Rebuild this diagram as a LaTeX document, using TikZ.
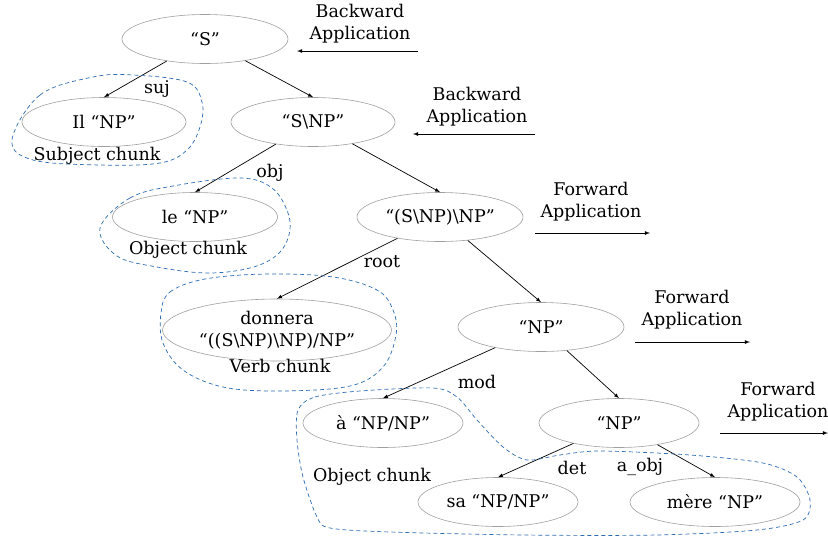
\documentclass[tikz,border=0pt]{standalone}
\usepackage{fontspec}
\setmainfont{DejaVu Serif}
\usepackage{xcolor}
\usetikzlibrary{arrows,backgrounds,calc,shapes.geometric}
\definecolor{chunkblue}{RGB}{46,108,178}
\tikzset{
  cat/.style={ellipse, draw=gray!75, line width=0.6pt, minimum width=#1, minimum height=49pt, inner sep=0pt},
  link/.style={-latex, line width=0.7pt},
  rule/.style={-latex, line width=0.8pt},
  lbl/.style={inner sep=0pt},
  chunk/.style={draw=chunkblue, dashed, line width=0.7pt, dash pattern=on 4pt off 3pt},
}
\begin{document}
\begin{tikzpicture}[x=1pt,y=-1pt,font=\fontsize{17.5}{22}\selectfont]
\useasboundingbox (0,0) rectangle (828,539);
\node[cat=166pt] (s) at (205,39) {“S”};
\node[cat=164pt] (il) at (104,122) {Il “NP”};
\node[cat=164pt] (snp) at (313,122) {“S\textbackslash NP”};
\node[cat=165pt] (le) at (195,217) {le “NP”};
\node[cat=166pt] (snpnp) at (440,217) {“(S\textbackslash NP)\textbackslash NP”};
\node[cat=229pt, minimum height=62pt, align=center] (donnera) at (277,330) {donnera\\“((S\textbackslash NP)\textbackslash NP)/NP”};
\node[cat=166pt] (npa) at (541,327) {“NP”};
\node[cat=160pt] (a) at (383,423) {à “NP/NP”};
\node[cat=160pt] (npb) at (619,423) {“NP”};
\node[cat=160pt] (sa) at (498,502) {sa “NP/NP”};
\node[cat=170pt] (mere) at (715,502) {mère “NP”};

\draw[link] (s) -- (il.north);
\draw[link] (s) -- (snp.north);
\draw[link] (snp) -- (le.north);
\draw[link] (snp) -- (snpnp.north);
\draw[link] (snpnp) -- (donnera.north);
\draw[link] (snpnp) -- (npa.north);
\draw[link] (npa) -- (a.north);
\draw[link] (npa) -- (npb.north);
\draw[link] (npb) -- (sa.north);
\draw[link] (npb) -- (mere.north);

\node[lbl] (suj) at (157,89) {suj};
\node[lbl] (obj) at (270,173) {obj};
\node[lbl] (root) at (382,262) {root};
\node[lbl] (mod) at (477,382) {mod};
\node[lbl] (det) at (572,468) {det};
\node[lbl] (aobj) at (640,467) {a\_obj};

\node[lbl, align=center] (back1) at (360,24) {Backward\\Application};
\coordinate (back1s) at (418,51);
\coordinate (back1e) at (297,51);
\draw[rule] (back1s) -- (back1e);
\node[lbl, align=center] (back2) at (477,107) {Backward\\Application};
\coordinate (back2s) at (535,134);
\coordinate (back2e) at (413,134);
\draw[rule] (back2s) -- (back2e);
\node[lbl, align=center] (fwd1) at (591,202) {Forward\\Application};
\coordinate (fwd1s) at (535,233);
\coordinate (fwd1e) at (650,233);
\draw[rule] (fwd1s) -- (fwd1e);
\node[lbl, align=center] (fwd2) at (692,310) {Forward\\Application};
\coordinate (fwd2s) at (635,342);
\coordinate (fwd2e) at (750,342);
\draw[rule] (fwd2s) -- (fwd2e);
\node[lbl, align=center] (fwd3) at (778,402) {Forward\\Application};
\coordinate (fwd3s) at (720,433);
\coordinate (fwd3e) at (828,433);
\draw[rule] (fwd3s) -- (fwd3e);

\draw[chunk] plot[smooth cycle, tension=0.6] coordinates {(12,140) (40,95) (93,77) (133,75) (187,82) (202,102) (200,127) (187,150) (160,163) (100,165) (33,160)};
\node[lbl] (subj) at (97,156) {Subject chunk};
\draw[chunk] plot[smooth cycle, tension=0.6] coordinates {(100,228) (130,198) (173,186) (240,178) (272,188) (288,213) (289,235) (277,255) (250,268) (207,273) (157,267) (117,256)};
\node[lbl] (objc) at (188,250) {Object chunk};
\draw[chunk] plot[smooth cycle, tension=0.6] coordinates {(161,313) (170,292) (205,279) (267,274) (333,277) (377,290) (393,310) (396,335) (383,367) (350,386) (280,391) (223,387) (183,370) (163,343)};
\node[lbl] (verbc) at (280,366) {Verb chunk};
\draw[chunk] plot[smooth cycle, tension=0.5] coordinates {(298,410) (315,397) (360,391) (433,388) (457,397) (477,420) (503,447) (527,460) (560,455) (600,451) (690,455) (763,463) (797,477) (810,500) (803,520) (757,530) (657,535) (523,535) (390,532) (330,528) (317,517) (303,477) (297,440)};
\node[lbl] (objc2) at (372,477) {Object chunk};
\end{tikzpicture}
\end{document}
